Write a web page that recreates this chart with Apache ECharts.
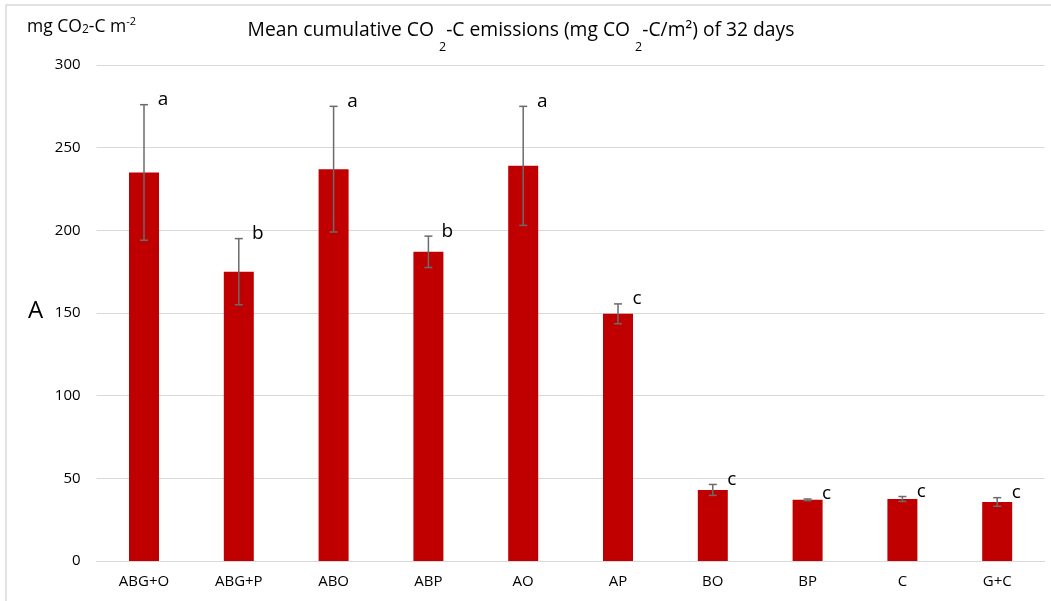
<!DOCTYPE html>
<html>
<head>
<meta charset="utf-8">
<script src="https://cdn.jsdelivr.net/npm/echarts@6/dist/echarts.min.js"></script>
<style>
  html, body { margin: 0; padding: 0; background: #ffffff; }
  #chart { width: 1051px; height: 601px; }
</style>
</head>
<body>
<div id="chart"></div>
<script>
// Treatments and their mean cumulative CO2-C emissions over 32 days
var categories = ['ABG+O', 'ABG+P', 'ABO', 'ABP', 'AO', 'AP', 'BO', 'BP', 'C', 'G+C'];
var means      = [235, 175, 237, 187, 239, 149.5, 43, 37, 37.5, 35.7];
var errors     = [41, 20, 38, 9.5, 36, 6, 3.3, 0.5, 1.5, 2.6];
var letters    = ['a', 'b', 'a', 'b', 'a', 'c', 'c', 'c', 'c', 'c'];
var yTicks     = { min: 0, max: 300, interval: 50 };

var FONT = '"Open Sans", "Noto Sans", sans-serif';

var errData = categories.map(function (c, i) {
  return [i, means[i] - errors[i], means[i] + errors[i], letters[i]];
});

var chart = echarts.init(document.getElementById('chart'), null, { renderer: 'canvas' });

chart.setOption({
  animation: false,
  backgroundColor: '#ffffff',
  graphic: [
    {
      type: 'rect',
      shape: { x: 6, y: 5, width: 1100, height: 700 },
      style: { fill: 'none', stroke: '#d9d9d9', lineWidth: 1.5 },
      silent: true, z: -1
    },
    {
      // chart title with lowered subscripts
      type: 'text',
      x: 521, y: 21,
      style: {
        text: '{t|Mean cumulative CO }{s|2}{t|-C emissions (mg CO }{s|2}{t|-C/m²) of 32 days}',
        align: 'center',
        rich: {
          t: { font: '19.3px ' + FONT, fill: '#000000', lineHeight: 33, verticalAlign: 'top' },
          s: { font: '12.5px ' + FONT, fill: '#000000', lineHeight: 33, verticalAlign: 'bottom' }
        }
      }
    },
    {
      // y-axis unit
      type: 'text',
      x: 27, y: 16,
      style: {
        text: '{t|mg CO}{s|2}{t|-C m}{p|-2}',
        rich: {
          t: { font: '17.5px ' + FONT, fill: '#000000', lineHeight: 22 },
          s: { font: '12px ' + FONT, fill: '#000000', lineHeight: 22, padding: [6, 0, 0, 0] },
          p: { font: '11px ' + FONT, fill: '#000000', lineHeight: 22, padding: [0, 0, 10, 0] }
        }
      }
    },
    {
      type: 'text',
      left: 28, top: 299,
      style: { text: 'A', font: '24px ' + FONT, fill: '#000000' }
    }
  ],
  grid: { left: 96.6, right: 6.4, top: 65, bottom: 40, containLabel: false },
  xAxis: {
    type: 'category',
    data: categories,
    axisLine: { lineStyle: { color: '#d9d9d9', width: 1 } },
    axisTick: { show: false },
    axisLabel: { fontFamily: FONT, fontSize: 15, color: '#000000', margin: 13 }
  },
  yAxis: {
    type: 'value',
    min: yTicks.min,
    max: yTicks.max,
    interval: yTicks.interval,
    axisLine: { show: false },
    axisTick: { show: false },
    splitLine: { lineStyle: { color: '#d9d9d9', width: 1 } },
    axisLabel: { fontFamily: FONT, fontSize: 15, color: '#000000', margin: 16 }
  },
  series: [
    {
      type: 'bar',
      data: means,
      barWidth: 30,
      itemStyle: { color: '#c00000' },
      z: 2
    },
    {
      type: 'custom',
      data: errData,
      z: 3,
      renderItem: function (params, api) {
        var x = api.value(0);
        var lo = api.coord([x, api.value(1)]);
        var hi = api.coord([x, api.value(2)]);
        var cap = 4;
        var line = { stroke: '#6b6b6b', lineWidth: 1.5 };
        return {
          type: 'group',
          children: [
            { type: 'line', shape: { x1: hi[0], y1: hi[1], x2: lo[0], y2: lo[1] }, style: line },
            { type: 'line', shape: { x1: hi[0] - cap, y1: hi[1], x2: hi[0] + cap, y2: hi[1] }, style: line },
            { type: 'line', shape: { x1: lo[0] - cap, y1: lo[1], x2: lo[0] + cap, y2: lo[1] }, style: line },
            {
              type: 'text',
              x: hi[0] + 19, y: hi[1] - 5,
              style: {
                text: api.value(3),
                font: '19px ' + FONT,
                fill: '#000000',
                align: 'center',
                verticalAlign: 'middle'
              }
            }
          ]
        };
      }
    }
  ]
});
</script>
</body>
</html>
